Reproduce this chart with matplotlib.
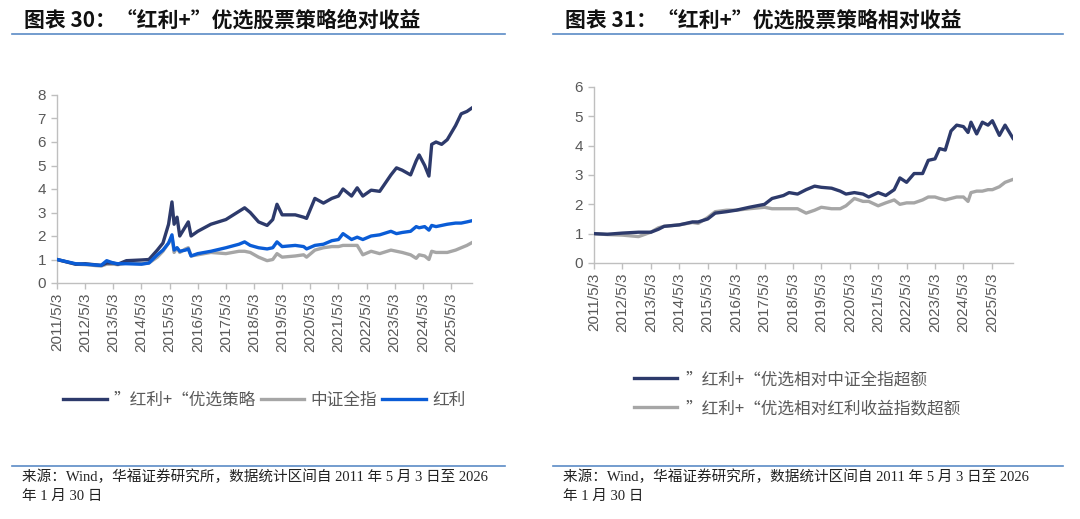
import matplotlib
matplotlib.use('Agg')
import matplotlib.pyplot as plt
import pandas as pd

plt.rcParams['font.family'] = ['Noto Sans CJK SC', 'DejaVu Sans']

# ---- data: left chart (absolute return) ----
left_dates = ['2011-05-03', '2012-01-01', '2012-05-03', '2012-11-25', '2013-02-06', '2013-05-03',
              '2013-07-01', '2013-10-20', '2014-05-03', '2014-08-08', '2014-11-25', '2015-02-06',
              '2015-04-20', '2015-06-03', '2015-07-01', '2015-08-08', '2015-09-12', '2015-11-25',
              '2016-01-01', '2016-02-06', '2016-05-03', '2016-10-20', '2017-05-03', '2017-10-20',
              '2018-01-01', '2018-03-15', '2018-07-01', '2018-10-20', '2019-01-01', '2019-02-25',
              '2019-05-03', '2019-10-20', '2020-02-06', '2020-03-15', '2020-07-01', '2020-10-20',
              '2021-02-06', '2021-05-03', '2021-07-01', '2021-10-20', '2022-01-01', '2022-03-15',
              '2022-07-01', '2022-10-20', '2023-03-15', '2023-05-26', '2023-08-08', '2023-11-25',
              '2024-02-06', '2024-03-15', '2024-05-26', '2024-07-20', '2024-08-25', '2024-10-20',
              '2025-01-01', '2025-03-15', '2025-07-01', '2025-09-12', '2025-11-25', '2026-01-30']
strategy = [1.0, 0.8, 0.82, 0.75, 0.85, 0.85, 0.8, 0.95, 0.98, 1.0, 1.4, 1.7,
            2.5, 3.45, 2.5, 2.8, 2.0, 2.4, 2.6, 2.0, 2.2, 2.5, 2.7, 3.05,
            3.2, 3.0, 2.6, 2.45, 2.7, 3.35, 2.9, 2.9, 2.8, 2.75, 3.6, 3.4,
            3.6, 3.7, 4.0, 3.7, 4.05, 3.7, 3.95, 3.9, 4.6, 4.9, 4.8, 4.6,
            5.2, 5.45, 5.0, 4.55, 5.9, 6.0, 5.9, 6.1, 6.7, 7.2, 7.3, 7.45]
csi_all = [1.0, 0.8, 0.78, 0.72, 0.8, 0.8, 0.78, 0.85, 0.82, 0.85, 1.1, 1.35,
           1.7, 1.95, 1.3, 1.5, 1.3, 1.45, 1.5, 1.15, 1.2, 1.3, 1.25, 1.35,
           1.35, 1.3, 1.1, 0.95, 1.0, 1.25, 1.1, 1.15, 1.2, 1.1, 1.4, 1.5,
           1.55, 1.55, 1.6, 1.6, 1.6, 1.2, 1.35, 1.25, 1.4, 1.35, 1.3, 1.2,
           1.05, 1.2, 1.15, 1.0, 1.35, 1.3, 1.3, 1.3, 1.4, 1.5, 1.6, 1.72]
dividend = [1.0, 0.82, 0.8, 0.75, 0.95, 0.85, 0.82, 0.82, 0.8, 0.85, 1.2, 1.4,
            1.7, 2.05, 1.4, 1.5, 1.35, 1.4, 1.45, 1.15, 1.25, 1.35, 1.5, 1.65,
            1.75, 1.6, 1.5, 1.45, 1.5, 1.75, 1.55, 1.6, 1.55, 1.45, 1.6, 1.65,
            1.8, 1.85, 2.1, 1.85, 1.95, 1.85, 2.0, 2.05, 2.2, 2.1, 2.15, 2.2,
            2.4, 2.35, 2.4, 2.25, 2.45, 2.4, 2.45, 2.5, 2.55, 2.55, 2.6, 2.65]

# ---- data: right chart (relative return) ----
right_dates = ['2011-05-03', '2011-10-20', '2012-05-03', '2012-11-25', '2013-05-03', '2013-08-08',
               '2013-10-20', '2014-05-03', '2014-10-20', '2015-01-01', '2015-05-03', '2015-08-08',
               '2016-01-01', '2016-05-03', '2016-10-20', '2017-05-03', '2017-08-08', '2018-01-01',
               '2018-03-15', '2018-07-01', '2018-10-20', '2019-02-06', '2019-05-03', '2019-09-12',
               '2020-01-01', '2020-03-15', '2020-07-01', '2020-10-20', '2021-01-01', '2021-05-03',
               '2021-08-08', '2021-11-25', '2022-02-06', '2022-05-03', '2022-08-08', '2022-11-25',
               '2023-02-06', '2023-05-03', '2023-07-01', '2023-09-12', '2023-11-25', '2024-02-06',
               '2024-05-03', '2024-07-01', '2024-08-08', '2024-10-20', '2025-01-01', '2025-03-15',
               '2025-05-10', '2025-08-08', '2025-10-20', '2026-01-30']
excess_csi = [1.0, 0.98, 1.02, 1.05, 1.05, 1.15, 1.25, 1.3, 1.4, 1.4, 1.5, 1.7,
              1.75, 1.8, 1.9, 2.0, 2.2, 2.3, 2.4, 2.35, 2.5, 2.62, 2.58, 2.55,
              2.45, 2.35, 2.4, 2.35, 2.25, 2.4, 2.3, 2.5, 2.9, 2.75, 3.05, 3.05,
              3.5, 3.55, 3.9, 3.85, 4.5, 4.7, 4.65, 4.45, 4.8, 4.4, 4.8, 4.7,
              4.85, 4.35, 4.7, 4.25]
excess_div = [1.0, 0.97, 0.95, 0.9, 1.05, 1.2, 1.25, 1.3, 1.38, 1.35, 1.55, 1.75,
              1.8, 1.8, 1.85, 1.9, 1.85, 1.85, 1.85, 1.85, 1.7, 1.8, 1.9, 1.85,
              1.85, 1.95, 2.2, 2.1, 2.1, 1.95, 2.05, 2.15, 2.0, 2.05, 2.05, 2.15,
              2.25, 2.25, 2.2, 2.15, 2.2, 2.25, 2.25, 2.1, 2.4, 2.45, 2.45, 2.5,
              2.5, 2.6, 2.75, 2.85]

tick_dates = pd.to_datetime(['%d-05-03' % y for y in range(2011, 2026)])
tick_labels = ['%d/5/3' % y for y in range(2011, 2026)]

NAVY = '#2D3A6B'
GRAY = '#A6A6A6'
BLUE = '#0A5CD6'
AXC = '#BFBFBF'
TXT = '#595959'
RULE = '#5B8BC6'

fig = plt.figure(figsize=(10.8, 5.19), dpi=100)


def style_axes(ax, ymax):
    ax.set_ylim(0, ymax)
    ax.set_xlim(pd.Timestamp('2011-05-03'), pd.Timestamp('2026-01-30'))
    for s in ['top', 'right']:
        ax.spines[s].set_visible(False)
    for s in ['left', 'bottom']:
        ax.spines[s].set_color(AXC)
        ax.spines[s].set_linewidth(1.0)
    ax.set_xticks(tick_dates)
    ax.set_xticklabels(tick_labels, rotation=90)
    ax.set_yticks(range(0, ymax + 1))
    ax.tick_params(axis='both', colors=AXC, labelcolor=TXT, length=4, width=1)
    ax.tick_params(axis='x', labelsize=11, pad=3)
    ax.tick_params(axis='y', labelsize=11, pad=4)
    for lab in ax.get_xticklabels() + ax.get_yticklabels():
        lab.set_family(['Liberation Sans', 'DejaVu Sans'])


def frame(x0, x1, title):
    # title + blue rule + source text
    fig.text(x0 + 12 / 1080, 1 - 20 / 519, title, fontsize=15, fontweight='bold',
             family=['Noto Sans CJK SC', 'DejaVu Sans'], va='center', color='#111111')
    fig.add_artist(plt.Line2D([x0, x1], [1 - 34 / 519] * 2, color=RULE, lw=1.2))
    fig.add_artist(plt.Line2D([x0, x1], [1 - 466 / 519] * 2, color=RULE, lw=1.2))
    src = '来源：Wind，华福证券研究所，数据统计区间自 2011 年 5 月 3 日至 2026\n年 1 月 30 日'
    fig.text(x0 + 10 / 1080, 1 - 470 / 519, src, fontsize=10.5, va='top', linespacing=1.55,
             family=['Liberation Serif', 'Noto Sans CJK SC'], color='#222222')


# ---- left ----
ld = pd.to_datetime(left_dates)
ax1 = fig.add_axes([57 / 1080, 1 - 283 / 519, (472 - 57) / 1080, (283 - 95) / 519])
ax1.plot(ld, csi_all, color=GRAY, lw=2.4, label='中证全指', zorder=2)
ax1.plot(ld, strategy, color=NAVY, lw=2.4, label='”红利+“优选策略', zorder=3)
ax1.plot(ld, dividend, color=BLUE, lw=2.4, label='红利', zorder=4)
style_axes(ax1, 8)
h, l = ax1.get_legend_handles_labels()
order = [1, 0, 2]
ax1.legend([h[i] for i in order], [l[i] for i in order], loc='center', ncol=3, frameon=False,
           bbox_to_anchor=(0.5, -0.625), fontsize=12, handlelength=2.6, handletextpad=0.4,
           columnspacing=0.3, labelcolor=TXT)
frame(12 / 1080, 505 / 1080, '图表 30：“红利+”优选股票策略绝对收益')

# ---- right ----
rd = pd.to_datetime(right_dates)
ax2 = fig.add_axes([594 / 1080, 1 - 263 / 519, (1013 - 594) / 1080, (263 - 87) / 519])
ax2.plot(rd, excess_div, color=GRAY, lw=2.4, label='”红利+“优选相对红利收益指数超额', zorder=2)
ax2.plot(rd, excess_csi, color=NAVY, lw=2.4, label='”红利+“优选相对中证全指超额', zorder=3)
style_axes(ax2, 6)
h, l = ax2.get_legend_handles_labels()
ax2.legend([h[1], h[0]], [l[1], l[0]], loc='upper left', ncol=1, frameon=False,
           bbox_to_anchor=(0.06, -0.53), fontsize=12, handlelength=2.6, handletextpad=0.5,
           labelspacing=0.7, labelcolor=TXT)
frame(553 / 1080, 1063 / 1080, '图表 31：“红利+”优选股票策略相对收益')

fig.savefig('out.png', dpi=100, facecolor='white')
